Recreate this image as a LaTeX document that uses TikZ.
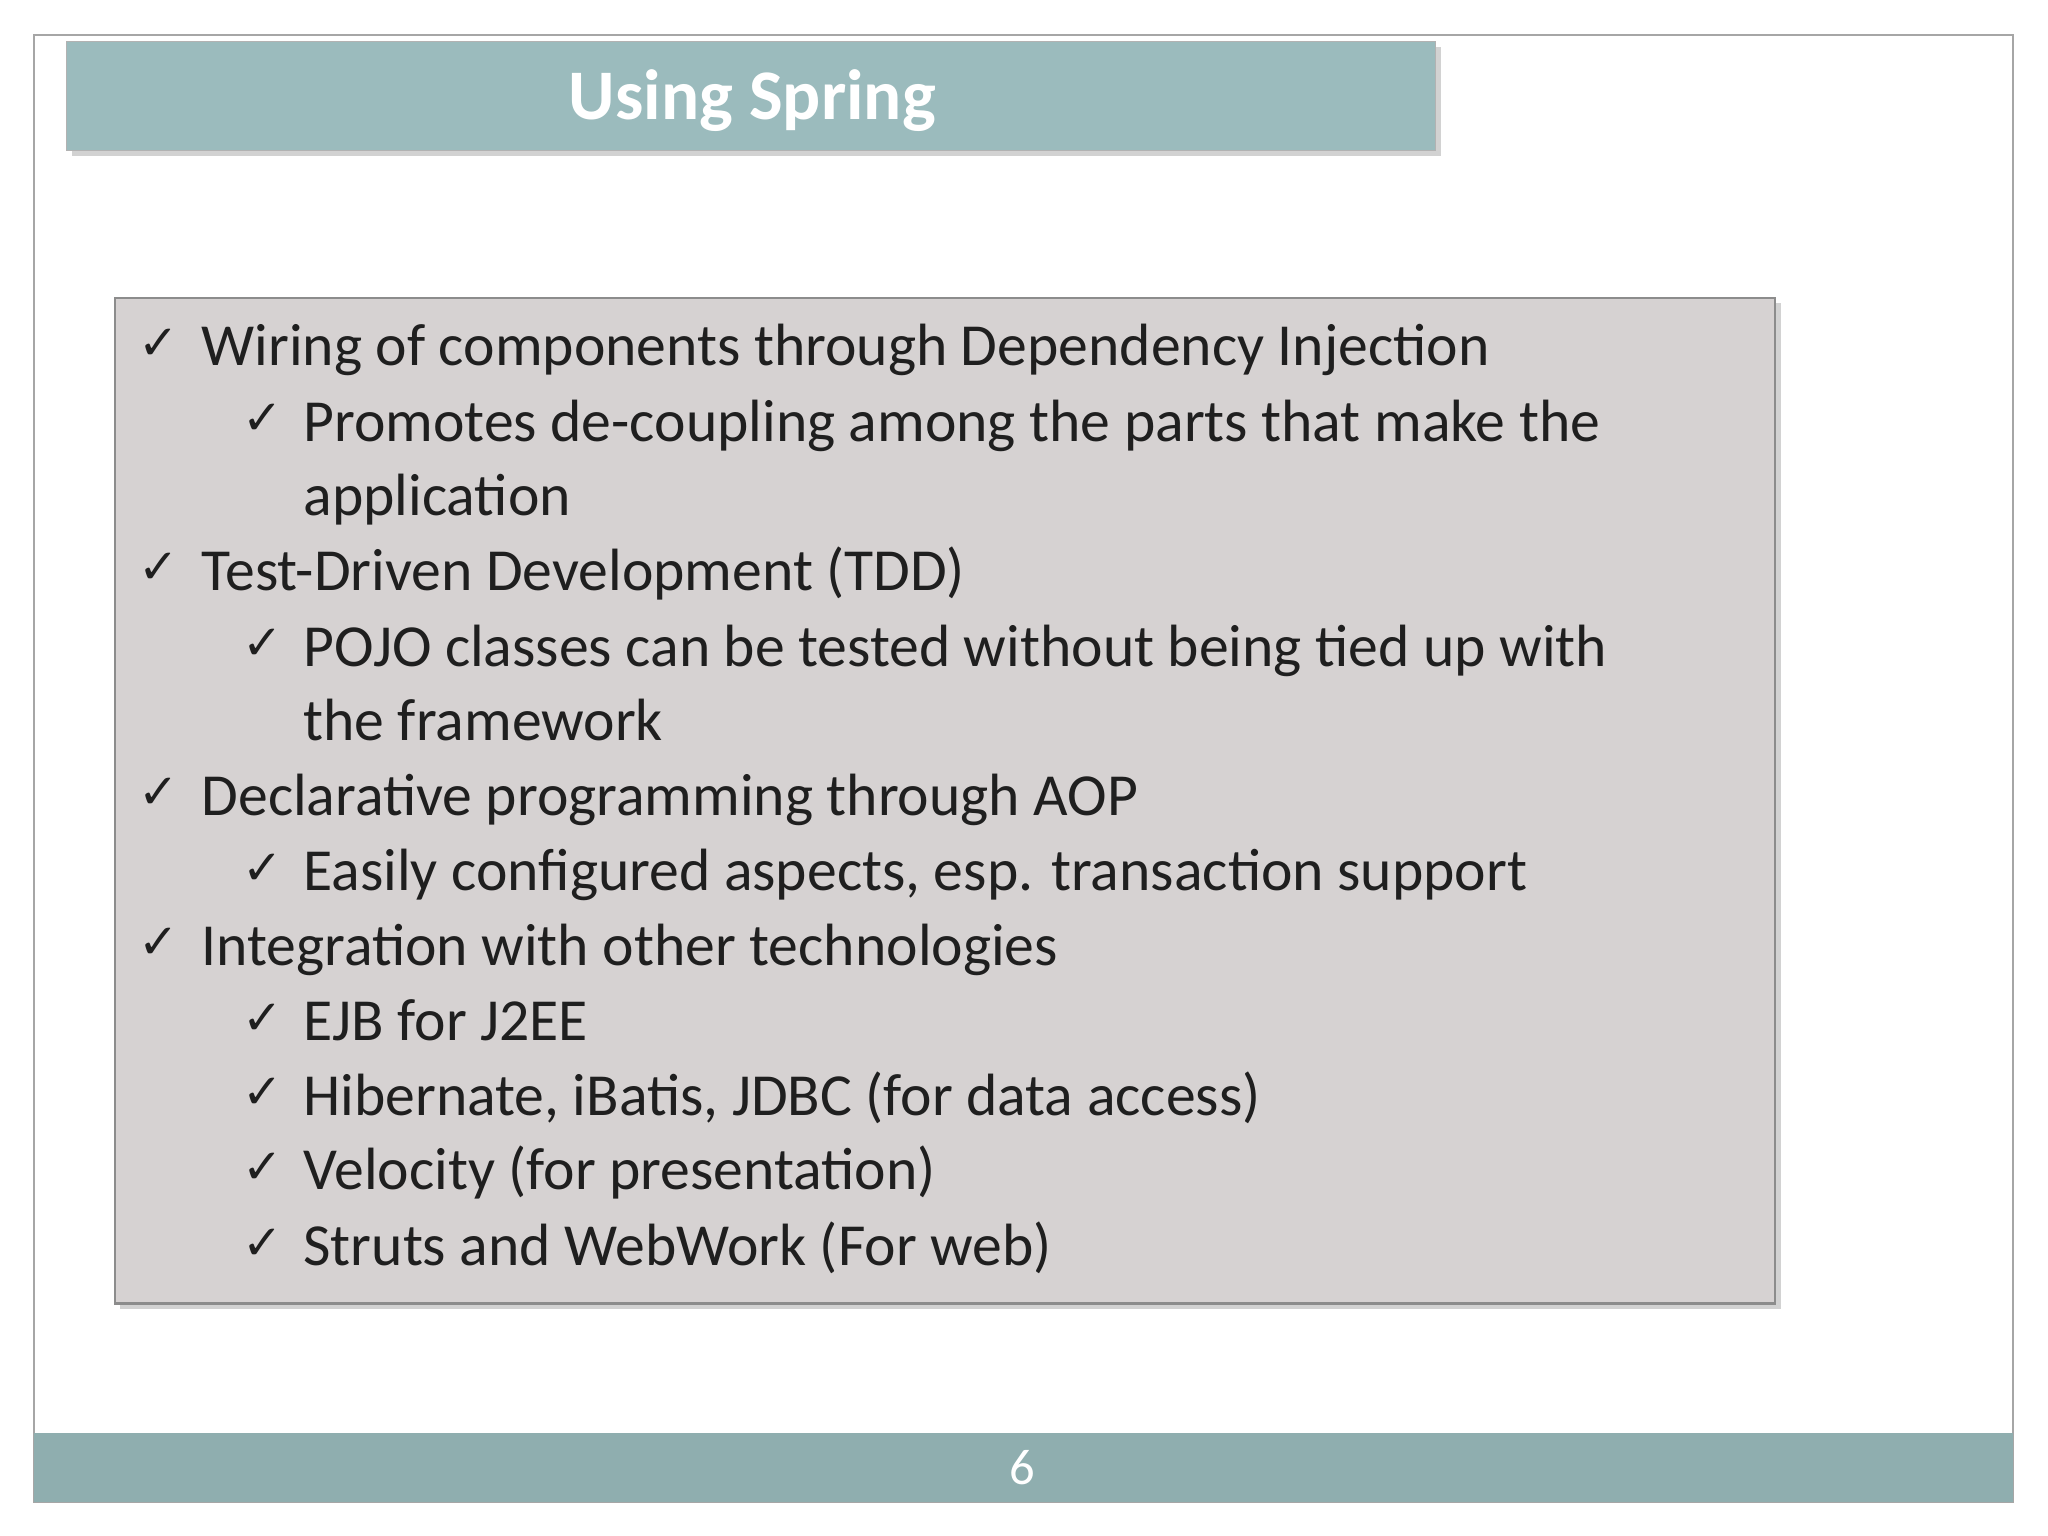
\documentclass[tikz,border=0pt]{standalone}
\usepackage{fontspec}
\setmainfont{Carlito}
\newfontfamily\djvfont{DejaVu Sans}
\usetikzlibrary{shadows}
\definecolor{titlec}{HTML}{9BBBBD}
\definecolor{footc}{HTML}{8FAEAF}
\definecolor{boxc}{HTML}{D6D2D2}
\definecolor{boxd}{HTML}{8C8C8C}
\tikzset{
 txt/.style={anchor=base west,inner sep=0pt,font=\fontsize{26}{31}\selectfont,text=black!88},
 chk/.style={anchor=base west,inner sep=0pt,font=\djvfont\fontsize{21}{26}\selectfont,text=black!88}
}
\begin{document}
\begin{tikzpicture}[x=0.02cm,y=-0.02cm]
\useasboundingbox (0,0) rectangle (1568,1176);
\fill[white] (0,0) rectangle (1568,1176);
\draw[gray!70,line width=1pt] (26,27) rectangle (1541,1150);
\node[draw=gray!60,fill=titlec,minimum width=1048*0.02cm,minimum height=83*0.02cm,drop shadow={opacity=0.35},inner sep=0pt] (title) at (575,73.5) {};
\node[text=white,font=\bfseries\fontsize{31}{36}\selectfont] (tt) at (576,77) {Using Spring};
\node[draw=boxd,fill=boxc,line width=1pt,minimum width=1271*0.02cm,minimum height=770*0.02cm,drop shadow={opacity=0.35},inner sep=0pt] (box) at (723.5,613) {};
\fill[footc] (26,1097) rectangle (1541,1150);
\node[text=white,font=\fontsize{22}{26}\selectfont] (pg) at (783,1124) {6};
\foreach \lvl/\y/\t [count=\i] in {
 1/267/{Wiring of components through Dependency Injection},
 2/325/{Promotes de-coupling among the parts that make the},
 0/382/{application},
 1/439/{Test-Driven Development (TDD)},
 2/497/{POJO classes can be tested without being tied up with},
 0/554/{the framework},
 1/611/{Declarative programming through AOP},
 2/669/{Easily configured aspects, esp. transaction support},
 1/726/{Integration with other technologies},
 2/784/{EJB for J2EE},
 2/841/{Hibernate, iBatis, JDBC (for data access)},
 2/898/{Velocity (for presentation)},
 2/956/{Struts and WebWork (For web)}}{
 \ifnum\lvl=1
  \node[chk] (c\i) at (106,\y+8) {✓};
  \node[txt] (t\i) at (154,\y+13) {\t};
 \else\ifnum\lvl=2
  \node[chk] (c\i) at (185,\y+8) {✓};
  \node[txt] (t\i) at (232,\y+13) {\t};
 \else
  \node[txt] (t\i) at (232,\y+13) {\t};
 \fi\fi
}
\end{tikzpicture}
\end{document}
